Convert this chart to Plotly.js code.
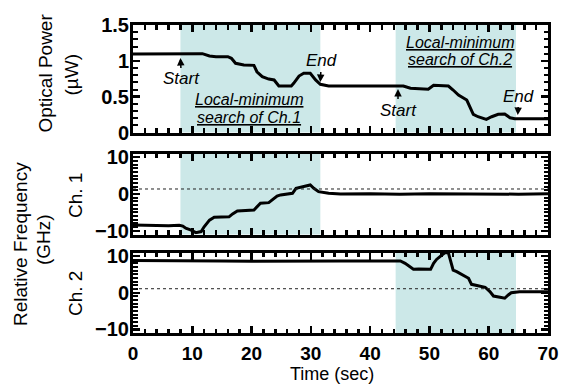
<!DOCTYPE html>
<html>
<head>
<meta charset="utf-8">
<script src="https://cdn.plot.ly/plotly-3.0.1.min.js"></script>
<style>html,body{margin:0;padding:0;background:#fff;}#chart{width:564px;height:385px;}</style>
</head>
<body>
<div id="chart"></div>
<script>
// ---- Data ----
// Optical power (uW)
const tPower = [0, 8, 9.5, 11, 11.7, 12.9, 14, 16, 16.6, 17.3, 18.7, 20.4, 20.9, 21.8, 22.9, 23.8, 24.6, 26.7, 27.1, 28, 28.8, 29.9, 30.8, 31.6, 33, 44.8, 45.6, 46.8, 49.8, 50.7, 53.2, 54, 54.9, 56.3, 56.8, 57.4, 58.2, 59.6, 60.5, 61.6, 62.7, 63.6, 64.4, 70];
const power = [1.095, 1.095, 1.09, 1.09, 1.1, 1.067, 1.058, 1.058, 1.035, 0.966, 0.942, 0.937, 0.848, 0.779, 0.746, 0.733, 0.649, 0.649, 0.686, 0.788, 0.826, 0.826, 0.733, 0.673, 0.649, 0.649, 0.649, 0.617, 0.603, 0.659, 0.649, 0.593, 0.523, 0.453, 0.36, 0.254, 0.22, 0.184, 0.22, 0.254, 0.258, 0.206, 0.192, 0.192];

// Relative frequency Ch. 1 (GHz)
const tCh1 = [0, 2, 4, 6, 7.8, 8.4, 8.9, 9.8, 10.6, 11.5, 12, 12.9, 13.7, 16.2, 16.8, 17.6, 20.4, 21, 21.5, 22.9, 23.5, 24.3, 24.9, 26.9, 27.5, 28.5, 29.9, 30.5, 31.3, 33, 35, 40, 45, 50, 55, 60, 65, 70];
const freqCh1 = [-8.4, -8.5, -8.4, -8.6, -8.5, -8.7, -9.3, -9.8, -10.5, -10.2, -8.9, -7.1, -6.3, -6.2, -5.4, -4.6, -4.35, -3.45, -2.5, -2.35, -1.6, -0.55, -0.25, 0.2, 1.55, 2.0, 2.45, 1.55, 0.65, 0.2, 0.0, 0.1, -0.1, 0.1, 0.0, 0.1, -0.05, 0.05];

// Relative frequency Ch. 2 (GHz)
const tCh2 = [0, 5, 10, 15, 20, 25, 30, 35, 40, 44.1, 45.1, 45.9, 46.8, 47.3, 48.2, 50.2, 50.7, 51.2, 52.1, 52.6, 53.2, 53.7, 54, 54.6, 55.7, 56.6, 57.1, 58.2, 59.4, 60.2, 60.8, 61.9, 62.7, 63.3, 63.8, 65.2, 70];
const freqCh2 = [8.8, 8.7, 8.6, 8.7, 8.6, 8.7, 8.6, 8.7, 8.7, 8.8, 8.7, 8.05, 7.1, 6.4, 6.5, 6.4, 8.05, 9.1, 10.3, 10.9, 10.9, 8.05, 6.2, 5.75, 4.85, 3.95, 2.3, 1.85, 1.5, 0.3, -0.9, -1.25, -1.5, -0.6, 0.0, 0.3, 0.3];

// Search intervals (sec)
const searchCh1 = [8, 31.6];
const searchCh2 = [44.3, 64.6];
// Zero reference lines (GHz)
const refCh1 = 1.36;
const refCh2 = 1.1;

// Tick labels
const xTicks = [0, 10, 20, 30, 40, 50, 60, 70];

// ---- Layout ----
const W = 564, H = 385;
const M = {l: 133, r: 16, t: 25, b: 52};
const pw = W - M.l - M.r, ph = H - M.t - M.b;
const px2x = p => (p - M.l) / pw;
const py2y = p => (H - M.b - p) / ph;

const FONT = 'Liberation Sans, Arial, Helvetica, sans-serif';
const yTickFont = {family: FONT, size: 20, color: '#000', weight: 'bold'};
const xTickFont = {family: FONT, size: 19, color: '#000', weight: 'bold'};
const shade = '#cce8e8';

function xax(anchor, showLabels) {
  return {
    anchor: anchor, range: [0, 70], tickmode: 'array', tickvals: xTicks, ticktext: xTicks.map(String),
    ticks: 'inside', ticklen: 7, tickwidth: 2.5, tickcolor: '#000',
    minor: {tickmode: 'linear', dtick: 2, tick0: 0, ticks: 'inside', ticklen: 4.5, tickwidth: 2.5, tickcolor: '#000'},
    showline: true, linewidth: 3, linecolor: '#000', mirror: 'ticks',
    showgrid: false, zeroline: false, showticklabels: showLabels, ticklabelstandoff: 1,
    tickfont: xTickFont, fixedrange: true
  };
}
function yax(anchor, domain, range, dtick, minorDtick) {
  return {
    anchor: anchor, domain: domain, range: range, dtick: dtick, tick0: 0,
    ticks: 'inside', ticklen: 7, tickwidth: 2.5, tickcolor: '#000',
    minor: {tickmode: 'linear', dtick: minorDtick, tick0: 0, ticks: 'inside', ticklen: 4.5, tickwidth: 2, tickcolor: '#000'},
    showline: true, linewidth: 3, linecolor: '#000', mirror: 'ticks',
    showgrid: false, zeroline: false, tickfont: yTickFont, ticklabelstandoff: -3, fixedrange: true
  };
}

const lineStyle = {color: '#000', width: 3};
const traces = [
  {x: tPower, y: power, xaxis: 'x', yaxis: 'y', mode: 'lines', line: lineStyle, hoverinfo: 'skip'},
  {x: tCh1, y: freqCh1, xaxis: 'x2', yaxis: 'y2', mode: 'lines', line: lineStyle, hoverinfo: 'skip'},
  {x: tCh2, y: freqCh2, xaxis: 'x3', yaxis: 'y3', mode: 'lines', line: lineStyle, hoverinfo: 'skip'}
];

function band(xr, xref, yref) {
  return {type: 'rect', xref: xref, yref: yref + ' domain', x0: xr[0], x1: xr[1], y0: 0, y1: 1,
          fillcolor: shade, line: {width: 0}, layer: 'below'};
}
function dashLine(y, xref, yref) {
  return {type: 'line', xref: xref + ' domain', yref: yref, x0: 0, x1: 1, y0: y, y1: y,
          line: {color: '#222', width: 1, dash: '3px,3px'}, layer: 'above'};
}

const shapes = [
  band(searchCh1, 'x', 'y'), band(searchCh2, 'x', 'y'),
  band(searchCh1, 'x2', 'y2'), band(searchCh2, 'x3', 'y3'),
  dashLine(refCh1, 'x2', 'y2'), dashLine(refCh2, 'x3', 'y3')
];

const titleFont = {family: FONT, size: 19, color: '#000'};
const noteFont = {family: FONT, size: 16, color: '#000', style: 'italic'};
function vtitle(text, px, py) {
  return {text: text, xref: 'paper', yref: 'paper', x: px2x(px), y: py2y(py),
          xanchor: 'center', yanchor: 'middle', textangle: -90, showarrow: false, font: titleFont};
}
function arrowNote(text, x, y, ax, ay) {
  return {text: text, xref: 'x', yref: 'y', x: x, y: y, ax: ax, ay: ay, showarrow: true,
          arrowhead: 2, arrowsize: 1, arrowwidth: 1.5, arrowcolor: '#000', standoff: 0,
          font: {family: FONT, size: 17, color: '#000', style: 'italic'}};
}
function uline(text, x, y) {
  return {text: '<span style="text-decoration:underline">' + text + '</span>', xref: 'x', yref: 'y',
          x: x, y: y, xanchor: 'center', yanchor: 'middle', showarrow: false, font: noteFont};
}

const annotations = [
  vtitle('Optical Power', 45, 73.5),
  vtitle('(µW)', 71, 74.5),
  vtitle('Relative Frequency', 20, 244),
  vtitle('(GHz)', 43, 240),
  vtitle('Ch. 1', 75, 196),
  vtitle('Ch. 2', 75, 294),
  {text: 'Time (sec)', xref: 'paper', yref: 'paper', x: px2x(331.5), y: py2y(373.5),
   xanchor: 'center', yanchor: 'middle', showarrow: false,
   font: {family: FONT, size: 18, color: '#000'}},
  arrowNote('Start', searchCh1[0], 1.04, 1, 21),
  arrowNote('End', searchCh1[1], 0.705, 1, -21),
  arrowNote('Start', searchCh2[0] + 0.4, 0.607, 0, 21),
  arrowNote('End', searchCh2[1] + 0.3, 0.244, 1, -19),
  uline('Local-minimum', 19.6, 0.46),
  uline('search of Ch.1', 19.6, 0.21),
  uline('Local-minimum', 55.1, 1.262),
  uline('search of Ch.2', 55.1, 1.012)
];

const layout = {
  width: W, height: H, margin: M, showlegend: false,
  paper_bgcolor: '#fff', plot_bgcolor: '#fff',
  font: {family: FONT, color: '#000'},
  xaxis: xax('y', false), xaxis2: xax('y2', false), xaxis3: xax('y3', true),
  yaxis: yax('x', [py2y(132.5), 1], [0, 1.5], 0.5, 0.1),
  yaxis2: yax('x2', [py2y(234.5), py2y(153.5)], [-11, 11], 10, 1),
  yaxis3: yax('x3', [0, py2y(252.5)], [-11, 11], 10, 1),
  shapes: shapes, annotations: annotations
};

Plotly.newPlot('chart', traces, layout, {displayModeBar: false, staticPlot: true});
</script>
</body>
</html>
